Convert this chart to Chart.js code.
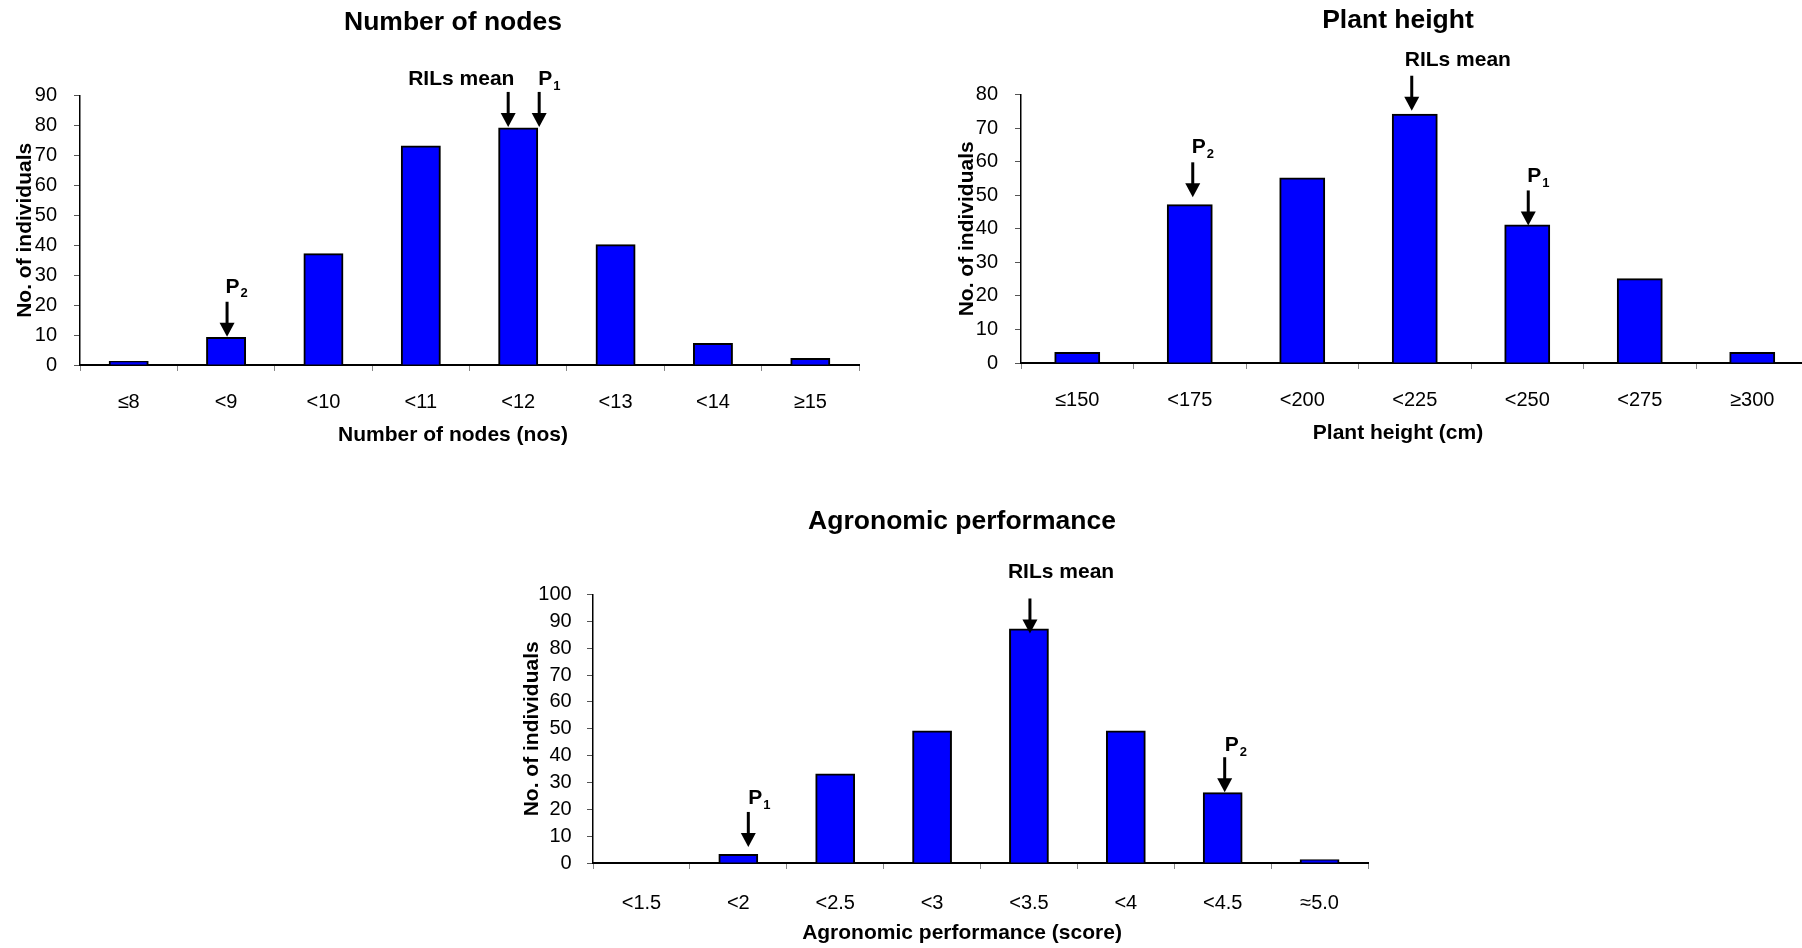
<!DOCTYPE html>
<html>
<head>
<meta charset="utf-8">
<title>RIL trait distributions</title>
<script src="https://cdn.jsdelivr.net/npm/chart.js@4.4.1/dist/chart.umd.min.js"></script>
<style>
  html, body { margin: 0; padding: 0; background: #fff; overflow: hidden; width: 1802px; height: 948px; }
  .panel { position: absolute; }
</style>
</head>
<body>
<div class="panel" style="left:0px;top:0px"><canvas id="nodesChart" width="906" height="460"></canvas></div>
<div class="panel" style="left:950px;top:0px"><canvas id="heightChart" width="896" height="460"></canvas></div>
<div class="panel" style="left:500px;top:470px"><canvas id="agroChart" width="924" height="478"></canvas></div>

<script>
// --- data ---
const nodeLabels = ['≤8', '<9', '<10', '<11', '<12', '<13', '<14', '≥15'];
const nodeCounts = [1, 9, 37, 73, 79, 40, 7, 2];
const nodeMarks = [
    { text: 'RILs mean', at: 4 },
    { text: 'P', sub: '1', at: 4 },
    { text: 'P', sub: '2', at: 1 }
];

const heightLabels = ['≤150', '<175', '<200', '<225', '<250', '<275', '≥300'];
const heightCounts = [3, 47, 55, 74, 41, 25, 3];
const heightMarks = [
    { text: 'RILs mean', at: 3 },
    { text: 'P', sub: '2', at: 1 },
    { text: 'P', sub: '1', at: 4 }
];

const agroLabels = ['<1.5', '<2', '<2.5', '<3', '<3.5', '<4', '<4.5', '≈5.0'];
const agroCounts = [0, 3, 33, 49, 87, 49, 26, 1];
const agroMarks = [
    { text: 'RILs mean', at: 4 },
    { text: 'P', sub: '1', at: 1 },
    { text: 'P', sub: '2', at: 6 }
];

const FONT = "'Liberation Sans', Arial, Helvetica, sans-serif";
Chart.defaults.font.family = FONT;
Chart.defaults.color = '#000';

// arrows + parent labels, placed from the bar they point at
const arrows = {
    id: 'arrows',
    afterDatasetsDraw(chart, args, opts) {
        const ctx = chart.ctx;
        const x = chart.scales.x, y = chart.scales.y;
        const counts = chart.data.datasets[0].data;
        ctx.save();
        ctx.fillStyle = '#000';
        ctx.strokeStyle = '#000';
        opts.marks.forEach((m, i) => {
            const p = opts.place[i];
            const ax = x.getPixelForValue(m.at) + p.dx;
            const tip = y.getPixelForValue(counts[m.at]) - p.gap;
            const top = tip - 35;
            ctx.lineWidth = 3;
            ctx.beginPath();
            ctx.moveTo(ax, top);
            ctx.lineTo(ax, tip - 12);
            ctx.stroke();
            ctx.beginPath();
            ctx.moveTo(ax - 7.5, tip - 14);
            ctx.lineTo(ax + 7.5, tip - 14);
            ctx.lineTo(ax, tip);
            ctx.closePath();
            ctx.fill();

            const ty = top - p.lift;
            ctx.textAlign = 'left';
            ctx.textBaseline = 'middle';
            ctx.font = 'bold 21px ' + FONT;
            ctx.fillText(m.text, ax + p.tx, ty);
            if (m.sub) {
                const w = ctx.measureText(m.text).width;
                ctx.font = 'bold 13px ' + FONT;
                ctx.fillText(m.sub, ax + p.tx + w + 1, ty + 7);
            }
        });
        ctx.restore();
    }
};

function drawChart(canvasId, labels, counts, marks, look) {
    return new Chart(document.getElementById(canvasId), {
        type: 'bar',
        data: {
            labels: labels,
            datasets: [{
                data: counts,
                backgroundColor: '#0000ff',
                borderColor: '#000',
                borderWidth: 2,
                inflateAmount: 1,
                barPercentage: 0.39,
                categoryPercentage: 1
            }]
        },
        options: {
            responsive: false,
            animation: false,
            layout: { padding: 0 },
            plugins: {
                legend: { display: false },
                tooltip: { enabled: false },
                title: {
                    display: true,
                    text: look.title,
                    color: '#000',
                    font: { size: 26.5, weight: 'bold' },
                    padding: { top: look.titleTop, bottom: look.titleBottom }
                },
                subtitle: {
                    display: true,
                    position: 'bottom',
                    text: look.xTitle,
                    color: '#000',
                    font: { size: 21, weight: 'bold' },
                    padding: { top: 0, bottom: look.xTitleBottom }
                },
                arrows: { marks: marks, place: look.place }
            },
            scales: {
                x: {
                    grid: { drawOnChartArea: false, tickLength: 6, color: '#888', offset: true },
                    border: { color: '#000', width: 2 },
                    ticks: { font: { size: 20 }, color: '#000', padding: look.xTickPad, maxRotation: 0, autoSkip: false },
                    afterFit: s => { s.height = 57.4; }
                },
                y: {
                    min: 0,
                    max: look.yMax,
                    grid: { drawOnChartArea: false, tickLength: 6, color: '#555' },
                    border: { color: '#000', width: 1.5 },
                    ticks: { stepSize: 10, autoSkip: false, font: { size: 20 }, color: '#000', padding: look.yTickPad },
                    title: {
                        display: true,
                        text: 'No. of individuals',
                        color: '#000',
                        font: { size: 21, weight: 'bold' },
                        padding: { top: look.yTitlePad, bottom: 0 }
                    },
                    afterFit: s => { s.width = look.yWidth; }
                },
                // empty right-hand axis: only keeps the gap that centres the titles
                gap: {
                    type: 'linear',
                    position: 'right',
                    grid: { display: false },
                    border: { display: false },
                    ticks: { display: false },
                    afterFit: s => { s.width = look.rightGap; }
                }
            }
        },
        plugins: [arrows]
    });
}

drawChart('nodesChart', nodeLabels, nodeCounts, nodeMarks, {
    title: 'Number of nodes',
    xTitle: 'Number of nodes (nos)',
    yMax: 90,
    yWidth: 80, rightGap: 47,
    titleTop: 7, titleBottom: 56.8, xTitleBottom: 12.4,
    xTickPad: 19.5, yTickPad: 17, yTitlePad: 12.4,
    place: [
        { dx: -10, gap: 1.6, tx: -100, lift: 13 },
        { dx: 21, gap: 1.6, tx: -1, lift: 13 },
        { dx: 1, gap: 1.3, tx: -1.5, lift: 15 }
    ]
});

drawChart('heightChart', heightLabels, heightCounts, heightMarks, {
    title: 'Plant height',
    xTitle: 'Plant height (cm)',
    yMax: 80,
    yWidth: 71, rightGap: 37.5,
    titleTop: 4.4, titleBottom: 58.4, xTitleBottom: 14.4,
    xTickPad: 19, yTickPad: 17, yTitlePad: 4.4,
    place: [
        { dx: -3, gap: 4, tx: -7, lift: 16 },
        { dx: 3, gap: 8, tx: -1, lift: 15 },
        { dx: 1, gap: 0, tx: -1, lift: 14 }
    ]
});

drawChart('agroChart', agroLabels, agroCounts, agroMarks, {
    title: 'Agronomic performance',
    xTitle: 'Agronomic performance (score)',
    yMax: 100,
    yWidth: 93, rightGap: 56,
    titleTop: 35.4, titleBottom: 57.4, xTitleBottom: 2.4,
    xTickPad: 22, yTickPad: 15.3, yTitlePad: 19.4,
    place: [
        { dx: 1, gap: -4, tx: -22, lift: 26 },
        { dx: 10, gap: 8, tx: 0, lift: 14 },
        { dx: 2, gap: 1, tx: 0, lift: 12 }
    ]
});
</script>
</body>
</html>
